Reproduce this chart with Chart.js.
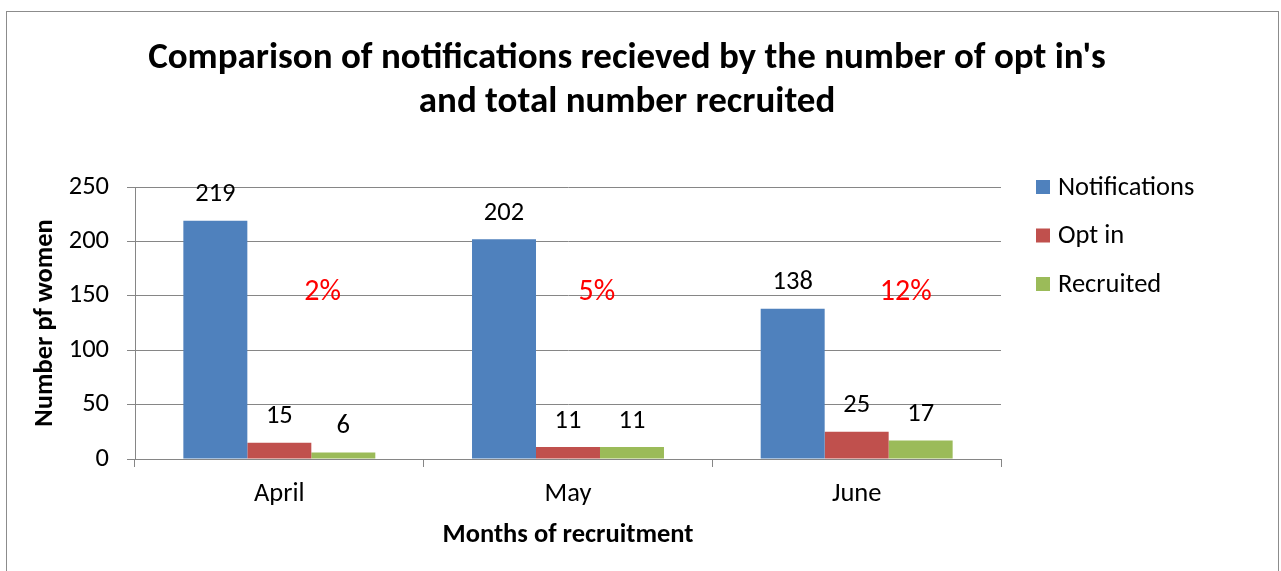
<!DOCTYPE html>
<html><head><meta charset="utf-8">
<script src="https://cdn.jsdelivr.net/npm/chart.js@4.4.1/dist/chart.umd.min.js"></script>
<style>html,body{margin:0;padding:0;background:#fff;overflow:hidden}#wrap{width:1281px;height:571px;position:relative}</style>
</head><body><div id="wrap"><canvas id="c" width="1281" height="571"></canvas></div>
<script>
const months = ["April", "May", "June"];
const notifications = [219, 202, 138];
const optIn = [15, 11, 25];
const recruited = [6, 11, 17];
const seriesNames = ["Notifications", "Opt in", "Recruited"];
const seriesColors = ["#4F81BD", "#C0504D", "#9BBB59"];
const yTicks = [0, 50, 100, 150, 200, 250];
const pctLabels = ["2%", "5%", "12%"];
const pctX = [0.15, 1.1, 2.17];
const pctY = [153, 153, 153];
const titleLines = ["Comparison of notifications recieved by the number of opt in's", "and total number recruited"];

const FONT = "Carlito, Lato, 'Liberation Sans', sans-serif";
const GRID = "#868686";
const TXT = 26.5;

const frame = {
  id: 'frame',
  beforeDraw(chart) {
    const ctx = chart.ctx;
    ctx.save();
    ctx.fillStyle = '#fff';
    ctx.fillRect(0, 0, chart.width, chart.height);
    ctx.strokeStyle = '#8c8c8c';
    ctx.lineWidth = 1;
    ctx.strokeRect(6.5, 11.5, 1272, 700);
    ctx.restore();
  }
};

const extras = {
  id: 'extras',
  afterDraw(chart) {
    const ctx = chart.ctx;
    const area = chart.chartArea;
    ctx.save();
    ctx.font = TXT + "px " + FONT;
    ctx.fillStyle = '#000';
    ctx.textAlign = 'center';
    ctx.textBaseline = 'middle';
    chart.data.datasets.forEach((ds, di) => {
      const meta = chart.getDatasetMeta(di);
      meta.data.forEach((bar, i) => {
        ctx.fillText(String(ds.data[i]), bar.x, bar.y - 26);
      });
    });
    const xs = chart.scales.x, ys = chart.scales.y;
    ctx.font = "30px " + FONT;
    ctx.fillStyle = '#FF0000';
    pctLabels.forEach((t, i) => {
      ctx.fillText(t, xs.getPixelForValue(pctX[i]), ys.getPixelForValue(pctY[i]));
    });
    ctx.font = TXT + "px " + FONT;
    ctx.textAlign = 'left';
    chart.data.datasets.forEach((ds, di) => {
      const cy = area.top + di * 48.5;
      const bx = area.right + 35;
      ctx.fillStyle = ds.backgroundColor;
      ctx.fillRect(bx, cy - 7, 14, 14);
      ctx.fillStyle = '#000';
      ctx.fillText(ds.label, bx + 22, cy + 1);
    });
    ctx.restore();
  }
};

new Chart(document.getElementById('c'), {
  type: 'bar',
  data: {
    labels: months,
    datasets: [
      { label: seriesNames[0], data: notifications, backgroundColor: seriesColors[0] },
      { label: seriesNames[1], data: optIn, backgroundColor: seriesColors[1] },
      { label: seriesNames[2], data: recruited, backgroundColor: seriesColors[2] }
    ]
  },
  options: {
    responsive: false,
    animation: false,
    layout: { padding: { left: 0, right: 27, top: 0, bottom: 20 } },
    datasets: { bar: { barPercentage: 1, categoryPercentage: 0.665 } },
    plugins: {
      legend: { display: false },
      tooltip: { enabled: false },
      title: {
        display: true,
        text: titleLines,
        color: '#000',
        font: { family: FONT, size: 37, weight: 'bold', lineHeight: 44 / 37 },
        padding: { top: 37, bottom: 62 }
      }
    },
    scales: {
      x: {
        grid: { display: true, drawOnChartArea: false, drawTicks: true, tickLength: 8, color: GRID, offset: true },
        border: { display: true, color: GRID },
        ticks: { color: '#000', font: { family: FONT, size: TXT }, padding: 11 },
        title: { display: true, text: 'Months of recruitment', color: '#000', font: { family: FONT, size: 26.5, weight: 'bold' }, padding: { top: 0, bottom: 0 } },
        afterFit(s) { s.height = 92; }
      },
      y: {
        min: 0, max: 250,
        afterBuildTicks(s) { s.ticks = yTicks.map(v => ({ value: v })); },
        grid: { color: GRID, tickLength: 8, drawTicks: true },
        border: { display: true, color: GRID },
        ticks: { color: '#000', font: { family: FONT, size: TXT }, padding: 18 },
        title: { display: true, text: 'Number pf women', color: '#000', font: { family: FONT, size: 26.5, weight: 'bold' }, padding: { top: 29, bottom: 0 } },
        afterFit(s) { s.width = 135; }
      },
      spare: {
        position: 'right',
        display: true,
        grid: { display: false, drawTicks: false },
        border: { display: false },
        ticks: { display: false },
        afterFit(s) { s.width = 253; }
      }
    }
  },
  plugins: [frame, extras]
});
</script>
</body></html>
